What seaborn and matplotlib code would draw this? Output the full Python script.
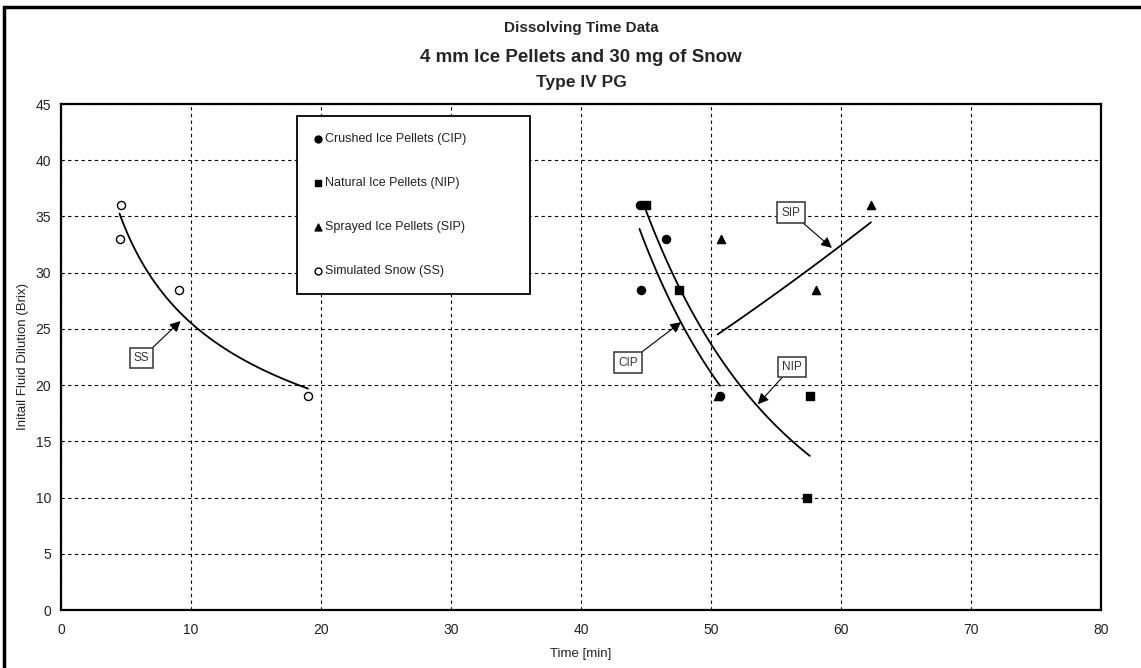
import numpy as np
import pandas as pd
import matplotlib
matplotlib.use("Agg")
import matplotlib.pyplot as plt
import seaborn as sns
from matplotlib.patches import Rectangle

# ---------------- data ----------------
cip_x = [44.5, 46.5, 44.6, 50.7]
cip_y = [36.0, 33.0, 28.5, 19.0]
nip_x = [45.0, 47.5, 57.6, 57.4]
nip_y = [36.0, 28.5, 19.0, 10.0]
sip_x = [50.8, 58.1, 62.3, 50.5]
sip_y = [33.0, 28.5, 36.0, 19.0]
ss_x = [4.6, 4.5, 9.1, 19.0]
ss_y = [36.0, 33.0, 28.5, 19.0]

series_names = ["Crushed Ice Pellets (CIP)", "Natural Ice Pellets (NIP)",
                "Sprayed Ice Pellets (SIP)", "Simulated Snow (SS)"]

x_ticks = [0, 10, 20, 30, 40, 50, 60, 70, 80]
y_ticks = [0, 5, 10, 15, 20, 25, 30, 35, 40, 45]

title_lines = ["Dissolving Time Data", "4 mm Ice Pellets and 30 mg of Snow", "Type IV PG"]
x_label = "Time [min]"
y_label = "Initail Fluid Dilution (Brix)"

# annotation labels: (label, box centre, arrow head)
annot_labels = ["SS", "CIP", "NIP", "SIP"]
annot_box = [(6.2, 22.4), (43.6, 22.0), (56.2, 21.6), (56.15, 35.35)]
annot_head = [(9.2, 25.7), (47.7, 25.6), (53.6, 18.3), (59.3, 32.2)]

# ---------------- build tables ----------------
xs_all = [cip_x, nip_x, sip_x, ss_x]
ys_all = [cip_y, nip_y, sip_y, ss_y]
df = pd.concat([pd.DataFrame({"x": xv, "y": yv, "series": nm})
                for xv, yv, nm in zip(xs_all, ys_all, series_names)], ignore_index=True)

# power trendlines (as in the original spreadsheet) fitted from the data
trend_rows = []
for xv, yv, nm in zip(xs_all, ys_all, series_names):
    b, lna = np.polyfit(np.log(xv), np.log(yv), 1)
    xx = np.linspace(min(xv), max(xv), 120)
    trend_rows.append(pd.DataFrame({"x": xx, "y": np.exp(lna) * xx ** b, "series": nm}))
trend = pd.concat(trend_rows, ignore_index=True)

# ---------------- style ----------------
sns.set_style("white")
plt.rcParams["font.family"] = ["Liberation Sans", "DejaVu Sans"]

fig = plt.figure(figsize=(11.41, 6.68), dpi=100)
ax = fig.add_axes([61 / 1141, 1 - 610 / 668, 1040 / 1141, 506 / 668])

styles = {
    series_names[0]: dict(marker="o", color="black", edgecolor="black"),
    series_names[1]: dict(marker="s", color="black", edgecolor="black"),
    series_names[2]: dict(marker="^", color="black", edgecolor="black"),
    series_names[3]: dict(marker="o", color="white", edgecolor="black"),
}

for nm in series_names:
    sub = trend[trend["series"] == nm]
    sns.lineplot(data=sub, x="x", y="y", ax=ax, color="black", lw=1.3,
                 estimator=None, sort=False, legend=False, zorder=3)

for nm in series_names:
    sub = df[df["series"] == nm]
    st = styles[nm]
    sns.scatterplot(data=sub, x="x", y="y", ax=ax, marker=st["marker"],
                    color=st["color"], edgecolor=st["edgecolor"], linewidth=1.0,
                    s=34, label=nm, zorder=4)

ax.set_xlim(0, 80)
ax.set_ylim(0, 45)
ax.set_xticks(x_ticks)
ax.set_yticks(y_ticks)
ax.grid(True, color="black", linestyle=(0, (3, 3)), linewidth=0.8)
ax.set_axisbelow(True)
for side, sp in ax.spines.items():
    sp.set_visible(True)
    sp.set_color("black")
    sp.set_linewidth(1.6)
ax.tick_params(axis="y", direction="out", length=4, width=1, pad=3, labelsize=10, colors="#222222")
ax.tick_params(axis="x", direction="in", length=4, width=1, pad=9, labelsize=10, colors="#222222")
ax.set_xlabel(x_label, fontsize=9.5, labelpad=8, color="#222222")
ax.set_ylabel(y_label, fontsize=9.5, labelpad=5, color="#222222")

# legend
leg = ax.legend(loc="upper left", bbox_to_anchor=(0.227, 0.6206, 0.224, 0.355),
                mode="expand", fontsize=9, frameon=True, fancybox=False,
                edgecolor="black", labelspacing=2.55, borderpad=1.35,
                handlelength=0.6, handletextpad=0.25, borderaxespad=0,
                markerscale=0.85)
leg.get_frame().set_linewidth(1.3)
leg.get_frame().set_facecolor("white")
leg.get_frame().set_alpha(1)
for t in leg.get_texts():
    t.set_color("#222222")

# annotations
for lab, bxy, hxy in zip(annot_labels, annot_box, annot_head):
    ax.annotate(lab, xy=hxy, xytext=bxy, ha="center", va="center", fontsize=8.5,
                color="#333333",
                bbox=dict(boxstyle="square,pad=0.35", fc="white", ec="#333333", lw=1.1),
                arrowprops=dict(arrowstyle="-|>", color="black", lw=0.8,
                                mutation_scale=16, shrinkA=0, shrinkB=0),
                zorder=5)

# titles
cx = (61 + 1101) / 2 / 1141
fig.text(cx, 1 - 28 / 668, title_lines[0], ha="center", va="center", fontsize=11, fontweight="bold")
fig.text(cx, 1 - 57 / 668, title_lines[1], ha="center", va="center", fontsize=13.5, fontweight="bold")
fig.text(cx, 1 - 83 / 668, title_lines[2], ha="center", va="center", fontsize=12.5, fontweight="bold")

# outer frame
fig.patches.append(Rectangle((4 / 1141, -0.02), 1.05, 1 - 7 / 668 + 0.02, transform=fig.transFigure,
                             fill=False, edgecolor="black", linewidth=2.5, clip_on=False))

fig.savefig("out.png", dpi=100)
